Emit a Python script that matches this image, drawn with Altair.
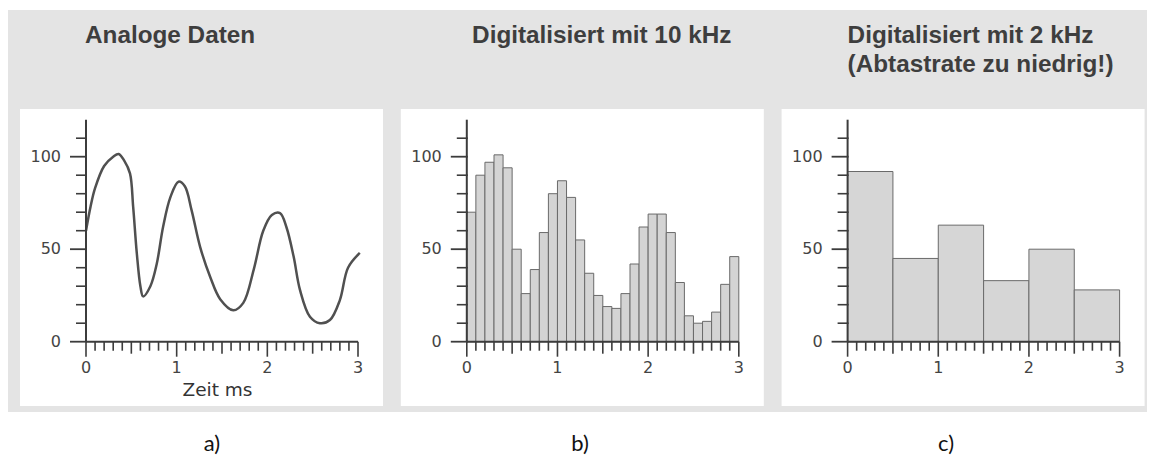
import altair as alt
import pandas as pd

# ---------------- data ----------------
titles_ab = ["Analoge Daten", "Digitalisiert mit 10 kHz"]
title_c = ["Digitalisiert mit 2 kHz", "(Abtastrate zu niedrig!)"]
panel_letters = ["a)", "b)", "c)"]
x_axis_title = "Zeit ms"

# analog signal (panel a)
analog_t = [0, 0.05, 0.1, 0.2, 0.3, 0.36, 0.42, 0.485, 0.52, 0.56, 0.6, 0.63,
            0.71, 0.78, 0.85, 0.93, 1.02, 1.09, 1.165, 1.26, 1.37, 1.48, 1.625,
            1.735, 1.85, 1.955, 2.05, 2.14, 2.21, 2.29, 2.36, 2.47, 2.58, 2.69,
            2.80, 2.89, 3.02]
analog_v = [60, 73, 83, 95, 100, 101.5, 98, 91, 73, 48, 30, 24.5,
            30, 42, 62, 78, 86.5, 84, 71, 51, 35, 23, 17,
            21, 39, 60, 68.5, 69.5, 62, 46, 28, 13.5, 10, 11.7,
            22.5, 40, 48]

# 10 kHz samples (panel b), one per 0.1 ms
b_values = [70, 90, 97, 101, 94, 50, 26, 39, 59, 80,
            87, 78, 55, 37, 25, 19, 18, 26, 42, 62,
            69, 69, 59, 32, 14, 10, 11, 16, 31, 46]
b_width = 0.1

# 2 kHz samples (panel c), one per 0.5 ms
c_values = [92, 45, 63, 33, 50, 28]
c_width = 0.5

y_label_values = [0, 50, 100]
y_labels = ["0", "50", "100"]
x_label_values = [0, 1, 2, 3]
x_labels = ["0", "1", "2", "3"]
y_tick_values = [0, 10, 20, 30, 40, 50, 60, 70, 80, 90, 100, 110]
y_axis_top = 120
x_axis_end = 3

# ---------------- layout ----------------
W, H = 1139, 452
PX = 272 / 3          # pixels per ms
PY = 1.85             # pixels per value unit
X0 = 78.0             # plot x of t=0 in panel a
Y0 = 333.7            # plot y of value 0
PANEL_PX = 380.8      # distance between panels in px
SHIFT = PANEL_PX / PX

XS = alt.Scale(domain=[-X0 / PX, (W - X0) / PX], nice=False, zero=False)
YS = alt.Scale(domain=[(Y0 - H) / PY, Y0 / PY], nice=False, zero=False)


def tx_(px):   # plot pixel x -> data units
    return (px - X0) / PX


def ty_(py):   # plot pixel y -> data units
    return (Y0 - py) / PY


GRAY = "#e4e4e4"
AX = "#3c3c3c"
LBL = "#444444"
FONT = "DejaVu Sans"
TFONT = "Liberation Sans"


def X(f):
    return alt.X(f, type="quantitative", scale=XS, axis=None)


def Y(f):
    return alt.Y(f, type="quantitative", scale=YS, axis=None)


layers = []

# background frame (gray) and white panels
frame = pd.DataFrame({
    "x1": [tx_(0)] + [tx_(X0 + i * PANEL_PX - 66) for i in range(3)],
    "x2": [tx_(W)] + [tx_(X0 + i * PANEL_PX + 297) for i in range(3)],
    "y1": [ty_(2)] + [ty_(101)] * 3,
    "y2": [ty_(404)] + [ty_(398)] * 3,
    "kind": ["gray", "white", "white", "white"],
})
layers.append(alt.Chart(frame).mark_rect().encode(
    x=X("x1"), x2="x2", y=Y("y1"), y2="y2",
    color=alt.Color("kind:N", scale=alt.Scale(domain=["gray", "white"],
                                              range=[GRAY, "white"]), legend=None)))

# titles
title_dx = [-1, 5.3, 0]
tdf = pd.DataFrame({
    "x": [tx_(X0 + i * PANEL_PX + title_dx[i]) for i in range(3)] + [tx_(X0 + 2 * PANEL_PX)],
    "y": [ty_(35)] * 3 + [ty_(64)],
    "s": titles_ab + title_c,
})
layers.append(alt.Chart(tdf).mark_text(
    align="left", baseline="alphabetic", font=TFONT, fontWeight="bold",
    fontSize=24.3, color="#3e3e3e").encode(x=X("x"), y=Y("y"), text="s:N"))

# bottom letters
ldf = pd.DataFrame({"x": [tx_(204), tx_(572), tx_(938)], "y": [ty_(443)] * 3,
                    "s": panel_letters})
layers.append(alt.Chart(ldf).mark_text(
    align="center", baseline="alphabetic", font="Lato", fontSize=22,
    color="#111").encode(x=X("x"), y=Y("y"), text="s:N"))

# panel a: analog curve
df_a = pd.DataFrame({"t": analog_t, "v": analog_v})
layers.append(alt.Chart(df_a).mark_line(
    color="#505050", strokeWidth=2.5, interpolate="catmull-rom").encode(
    x=X("t"), y=Y("v")))

# panel b bars
df_b = pd.DataFrame({"v": b_values})
df_b["t0"] = [SHIFT + i * b_width for i in range(len(b_values))]
df_b["t1"] = df_b["t0"] + b_width
df_b["z"] = 0
layers.append(alt.Chart(df_b).mark_rect(
    fill="#d4d4d4", stroke="#6a6a6a", strokeWidth=1).encode(
    x=X("t0"), x2="t1", y=Y("v"), y2="z"))

# panel c bars
df_c = pd.DataFrame({"v": c_values})
df_c["t0"] = [2 * SHIFT + i * c_width for i in range(len(c_values))]
df_c["t1"] = df_c["t0"] + c_width
df_c["z"] = 0
layers.append(alt.Chart(df_c).mark_rect(
    fill="#d6d6d6", stroke="#6a6a6a", strokeWidth=1).encode(
    x=X("t0"), x2="t1", y=Y("v"), y2="z"))

# axes lines
df_ax = pd.DataFrame({"xs": [0, SHIFT, 2 * SHIFT]})
df_ax["xe"] = df_ax["xs"] + x_axis_end
df_ax["z"] = 0
df_ax["top"] = y_axis_top
layers.append(alt.Chart(df_ax).mark_rule(color=AX, strokeWidth=2).encode(
    x=X("xs"), y=Y("z"), y2="top"))
layers.append(alt.Chart(df_ax).mark_rule(color=AX, strokeWidth=2).encode(
    x=X("xs"), x2="xe", y=Y("z")))

# y ticks
rows_major, rows_minor = [], []
for i in range(3):
    for v in y_tick_values:
        (rows_major if v % 50 == 0 else rows_minor).append({"xs": i * SHIFT, "v": v})
layers.append(alt.Chart(pd.DataFrame(rows_minor)).mark_rule(
    color=AX, strokeWidth=1.6, xOffset=-10, x2Offset=1).encode(
    x=X("xs"), x2="xs", y=Y("v")))
layers.append(alt.Chart(pd.DataFrame(rows_major)).mark_rule(
    color=AX, strokeWidth=1.8, xOffset=-16, x2Offset=1).encode(
    x=X("xs"), x2="xs", y=Y("v")))

# x ticks
txd = {"major": [], "half": [], "minor": []}
for i in range(3):
    for k in range(31):
        kind = "major" if k % 10 == 0 else ("half" if k % 5 == 0 else "minor")
        txd[kind].append({"xt": i * SHIFT + k / 10, "z": 0})
for kind, ln in [("minor", 9), ("half", 12), ("major", 15)]:
    layers.append(alt.Chart(pd.DataFrame(txd[kind])).mark_rule(
        color=AX, strokeWidth=1.6, y2Offset=ln).encode(
        x=X("xt"), y=Y("z"), y2="z"))

# tick labels
ylab = []
xlab = []
for i in range(3):
    for v, s in zip(y_label_values, y_labels):
        ylab.append({"xs": i * SHIFT, "v": v, "s": s})
    for t, s in zip(x_label_values, x_labels):
        xlab.append({"xt": i * SHIFT + t, "z": 0, "s": s})
layers.append(alt.Chart(pd.DataFrame(ylab)).mark_text(
    align="right", baseline="middle", dx=-25, font=FONT, fontSize=16,
    color=LBL).encode(x=X("xs"), y=Y("v"), text="s:N"))
layers.append(alt.Chart(pd.DataFrame(xlab)).mark_text(
    align="center", baseline="middle", dy=26, font=FONT, fontSize=16,
    color=LBL).encode(x=X("xt"), y=Y("z"), text="s:N"))

# axis title of panel a
layers.append(alt.Chart(pd.DataFrame({"t": [1.45], "z": [0], "s": [x_axis_title]})).mark_text(
    align="center", baseline="middle", dy=48, font=FONT, fontSize=18.5,
    color="#333").encode(x=X("t"), y=Y("z"), text="s:N"))

chart = alt.layer(*layers).properties(
    width=W, height=H, autosize=alt.AutoSizeParams(type="none"), padding=0,
    background="white"
).configure_view(strokeWidth=0)

chart.save("out.html", embed_options={"renderer": "svg", "actions": False})
